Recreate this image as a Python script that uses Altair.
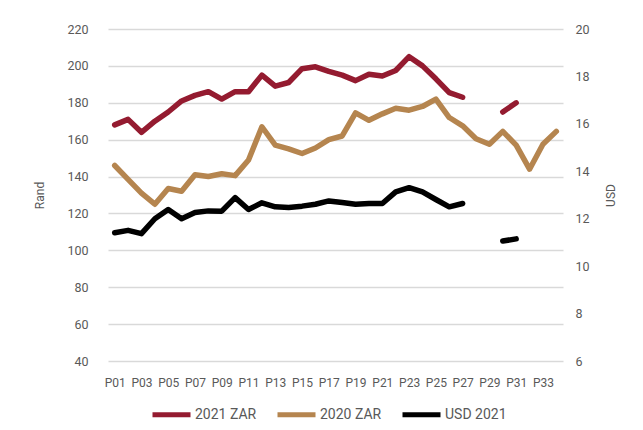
import altair as alt
import pandas as pd

periods = [f"P{i:02d}" for i in range(1, 35)]

zar2021 = [168, 171, 164, 170, 175, 181, 184, 186, 182, 186, 186, 195, 189, 191,
           198.5, 199.5, 197, 195, 192, 195.5, 194.5, 197.5, 205, 200, 193, 185.5,
           183, None, None, 175, 180, None, None, None]

zar2020 = [146, 138.5, 131, 125, 133.5, 132, 141, 140, 141.5, 140.5, 149, 167, 157,
           155, 152.5, 155.5, 160, 162, 174.5, 170.5, 174, 177, 176, 178, 182, 172,
           167.5, 160.5, 157.5, 164.5, 157, 144, 157.5, 164.5]

usd2021 = [11.41, 11.51, 11.37, 12.0, 12.39, 12.0, 12.26, 12.33, 12.32, 12.89, 12.39,
           12.67, 12.5, 12.47, 12.53, 12.61, 12.75, 12.68, 12.61, 12.64, 12.64, 13.13,
           13.31, 13.13, 12.81, 12.5, 12.64, None, None, 11.06, 11.15, None, None, None]

series_names = ["2021 ZAR", "2020 ZAR", "USD 2021"]
series_colors = ["#941B30", "#B5854F", "#000000"]

rand_ticks = list(range(40, 221, 20))
usd_ticks = list(range(6, 21, 2))

zar_df = pd.DataFrame({
    "period": periods * 2,
    "value": zar2021 + zar2020,
    "series": ["2021 ZAR"] * len(periods) + ["2020 ZAR"] * len(periods),
})
usd_df = pd.DataFrame({
    "period": periods,
    "usd": usd2021,
    "series": ["USD 2021"] * len(periods),
})

grey = "#595959"
font = "Roboto"

x_enc = alt.X(
    "period:O",
    sort=periods,
    scale=alt.Scale(type="point", padding=0.5, domain=periods),
    axis=alt.Axis(values=periods[::2], labelAngle=0, ticks=False, domain=False,
                  title=None, labelColor=grey, labelFont=font, labelFontSize=12,
                  labelPadding=16),
)

color_enc = alt.Color(
    "series:N",
    scale=alt.Scale(domain=series_names, range=series_colors),
    legend=alt.Legend(
        title=None, orient="none", direction="horizontal",
        legendX=42, legendY=364,
        symbolType="stroke", symbolSize=1444, symbolStrokeWidth=5,
        labelFont=font, labelFontSize=14, labelColor=grey, labelOffset=2,
        columnPadding=10,
    ),
)

zar = alt.Chart(zar_df).mark_line(
    strokeWidth=5.5, strokeJoin="round", strokeCap="round",
    invalid="break-paths-show-domains",
).encode(
    x=x_enc,
    y=alt.Y("value:Q",
            scale=alt.Scale(domain=[40, 220], nice=False, zero=False),
            axis=alt.Axis(values=rand_ticks, title="Rand", orient="left",
                          grid=True, gridColor="#d9d9d9", gridWidth=1.5,
                          domain=False, ticks=False, labelPadding=20,
                          labelColor=grey, labelFont=font, labelFontSize=12.5,
                          titleColor=grey, titleFont=font, titleFontSize=12,
                          titleFontWeight="normal", titlePadding=20)),
    color=color_enc,
)

usd = alt.Chart(usd_df).mark_line(
    strokeWidth=5.5, strokeJoin="round", strokeCap="round",
    invalid="break-paths-show-domains",
).encode(
    x=x_enc,
    y=alt.Y("usd:Q",
            scale=alt.Scale(domain=[6, 20], nice=False, zero=False),
            axis=alt.Axis(values=usd_ticks, title="USD", orient="right",
                          grid=False, domain=False, ticks=False, labelPadding=12,
                          labelColor=grey, labelFont=font, labelFontSize=12.5,
                          titleColor=grey, titleFont=font, titleFontSize=12,
                          titleFontWeight="normal", titlePadding=28, titleAngle=270)),
    color=color_enc,
)

chart = alt.layer(zar, usd).resolve_scale(y="independent").properties(
    width=455, height=332,
    autosize=alt.AutoSizeParams(type="none"),
    padding={"left": 100, "top": 21, "right": 72, "bottom": 61},
    background="white",
).configure_view(stroke=None)

chart.save("out.html", embed_options={"renderer": "svg", "actions": False})
